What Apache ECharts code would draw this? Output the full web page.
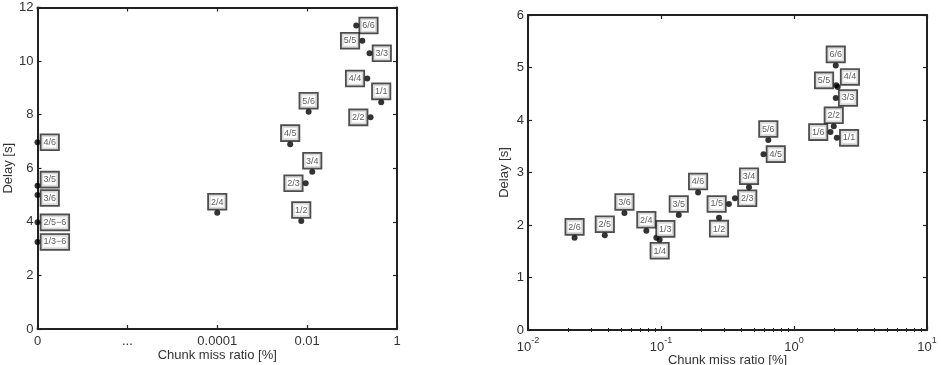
<!DOCTYPE html>
<html><head><meta charset="utf-8">
<script src="https://cdn.jsdelivr.net/npm/echarts@6/dist/echarts.min.js"></script>
<style>html,body{margin:0;padding:0;background:#fff}#c{width:941px;height:365px}</style>
</head><body><div id="c"></div>
<script>
// ---- Left panel data (chunk miss ratio in %, delay in s) ----
const leftLabels = ['4/6','3/5','3/6','2/5\u22126','1/3\u22126','2/4','1/2','2/3','3/4','4/5','5/6','6/6','5/5','3/3','4/4','1/1','2/2'];
const leftMiss   = [0, 0, 0, 0, 0, 0.0001, 0.0074, 0.0093, 0.013, 0.0042, 0.0108, 0.124, 0.169, 0.245, 0.218, 0.445, 0.258];
const leftDelay  = [6.97, 5.35, 5.0, 3.98, 3.25, 4.34, 4.03, 5.44, 5.87, 6.9, 8.11, 11.33, 10.76, 10.29, 9.35, 8.46, 7.9];
const leftTickLabels = ['0', '...', '0.0001', '0.01', '1'];
const leftYTicks = [0, 12, 2];

// ---- Right panel data ----
const rightLabels = ['2/6','2/5','3/6','2/4','1/3','1/4','3/5','4/6','1/2','1/5','2/3','3/4','4/5','5/6','6/6','5/5','4/4','3/3','2/2','1/6','1/1'];
const rightMiss   = [0.0224, 0.0378, 0.0531, 0.0776, 0.0923, 0.0977, 0.136, 0.19, 0.273, 0.324, 0.36, 0.459, 0.59, 0.641, 2.06, 2.08, 2.13, 2.06, 1.99, 1.88, 2.10];
const rightDelay  = [1.755, 1.806, 2.23, 1.89, 1.755, 1.72, 2.19, 2.62, 2.14, 2.40, 2.51, 2.72, 3.35, 3.62, 5.04, 4.66, 4.63, 4.42, 3.88, 3.77, 3.66];
const rightYTicks = [0, 6, 1];
const rightMinorTicks = [0.02,0.03,0.04,0.05,0.06,0.07,0.08,0.09,0.2,0.3,0.4,0.5,0.6,0.7,0.8,0.9,2,3,4,5,6,7,8,9];

// label placement (style, kept apart from data)
const leftLabelPos  = ['right','right','right','right','right','top','top','left','top','top','top','right','left','right','left','top','left'];
const leftLabelOffset = {1: [0, -6], 2: [0, 3]};
const rightLabelPos = ['top','top','top','top','top','bottom','top','top','bottom','left','right','top','right','top','top','left','right','right','top','left','right'];
const rightLabelOffset = {4: [9, 2], 15: [0, -5], 16: [0, -10]};

// broken axis: 0 at position 0, then log decades 1e-4 .. 1 at positions 2..4
function leftPos(p) { return p === 0 ? 0 : 2 + (Math.log10(p) + 4) / 2; }

const FONT = '"Liberation Sans", Arial, sans-serif';
const TXT = '#333';
const AX = '#222';

const boxLabel = {
  show: true, fontSize: 9, fontFamily: FONT, color: '#333',
  backgroundColor: '#fff', borderColor: '#222', borderWidth: 1.8,
  padding: [3, 2, 2, 2], distance: 1
};

function mkData(names, xs, ys, pos, offs, xf) {
  return names.map((n, i) => {
    const lab = Object.assign({}, boxLabel, {position: pos[i], formatter: n});
    if (offs && offs[i]) lab.offset = offs[i];
    return {name: n, value: [xf ? xf(xs[i]) : xs[i], ys[i]], label: lab};
  });
}

const tickCommon = {show: true, inside: true, length: 4, lineStyle: {color: AX, width: 1.2}};
const minorTick = {show: true, inside: true, length: 2, lineStyle: {color: AX, width: 1}, customValues: rightMinorTicks};
const lineCommon = {show: true, onZero: false, lineStyle: {color: AX, width: 2}};
const labelCommon = {color: TXT, fontSize: 13, fontFamily: FONT};
const nameStyle = {color: TXT, fontSize: 13, fontFamily: FONT};

const option = {
  animation: false,
  backgroundColor: '#fff',
  grid: [
    {left: 37.5, right: 544, top: 7.5, bottom: 36, containLabel: false, outerBoundsMode: 'none'},
    {left: 528, right: 14, top: 15, bottom: 35, containLabel: false, outerBoundsMode: 'none'}
  ],
  xAxis: [
    {gridIndex: 0, type: 'value', min: 0, max: 4, interval: 1, position: 'bottom',
     axisLine: lineCommon, axisTick: tickCommon, splitLine: {show: false},
     axisLabel: Object.assign({}, labelCommon, {margin: 6, formatter: v => leftTickLabels[Math.round(v)]}),
     name: 'Chunk miss ratio [%]', nameLocation: 'middle', nameGap: 20, nameMoveOverlap: false, nameTextStyle: nameStyle},
    {gridIndex: 0, type: 'value', min: 0, max: 4, interval: 1, position: 'top',
     axisLine: lineCommon, axisTick: tickCommon, splitLine: {show: false}, axisLabel: {show: false}},
    {gridIndex: 1, type: 'log', logBase: 10, min: 0.01, max: 10, position: 'bottom',
     axisLine: lineCommon, axisTick: tickCommon, splitLine: {show: false},
     axisLabel: Object.assign({}, labelCommon, {margin: 4,
       formatter: v => '{b|10}{s|' + Math.round(Math.log10(v)) + '}',
       rich: {b: {fontSize: 13, fontFamily: FONT, color: TXT, padding: [7, 0, 0, 0]},
              s: {fontSize: 9, fontFamily: FONT, color: TXT, padding: [0, 0, 6, 0]}}}),
     name: 'Chunk miss ratio [%]', nameLocation: 'middle', nameGap: 24, nameMoveOverlap: false, nameTextStyle: nameStyle},
    {gridIndex: 1, type: 'log', logBase: 10, min: 0.01, max: 10, position: 'bottom',
     axisLine: {show: false}, splitLine: {show: false}, axisLabel: {show: false}, axisTick: minorTick},
    {gridIndex: 1, type: 'log', logBase: 10, min: 0.01, max: 10, position: 'top',
     axisLine: lineCommon, axisTick: tickCommon, splitLine: {show: false}, axisLabel: {show: false}},
    {gridIndex: 1, type: 'log', logBase: 10, min: 0.01, max: 10, position: 'top',
     axisLine: {show: false}, splitLine: {show: false}, axisLabel: {show: false}, axisTick: minorTick}
  ],
  yAxis: [
    {gridIndex: 0, type: 'value', min: leftYTicks[0], max: leftYTicks[1], interval: leftYTicks[2], position: 'left',
     axisLine: lineCommon, axisTick: tickCommon, splitLine: {show: false},
     axisLabel: Object.assign({}, labelCommon, {margin: 4}),
     name: 'Delay [s]', nameLocation: 'middle', nameGap: 23, nameMoveOverlap: false, nameTextStyle: nameStyle},
    {gridIndex: 0, type: 'value', min: leftYTicks[0], max: leftYTicks[1], interval: leftYTicks[2], position: 'right',
     axisLine: lineCommon, axisTick: tickCommon, splitLine: {show: false}, axisLabel: {show: false}},
    {gridIndex: 1, type: 'value', min: rightYTicks[0], max: rightYTicks[1], interval: rightYTicks[2], position: 'left',
     axisLine: lineCommon, axisTick: tickCommon, splitLine: {show: false},
     axisLabel: Object.assign({}, labelCommon, {margin: 4}),
     name: 'Delay [s]', nameLocation: 'middle', nameGap: 17, nameMoveOverlap: false, nameTextStyle: nameStyle},
    {gridIndex: 1, type: 'value', min: rightYTicks[0], max: rightYTicks[1], interval: rightYTicks[2], position: 'right',
     axisLine: lineCommon, axisTick: tickCommon, splitLine: {show: false}, axisLabel: {show: false}}
  ],
  series: [
    {type: 'scatter', xAxisIndex: 0, yAxisIndex: 0, symbolSize: 6, clip: false,
     itemStyle: {color: '#000'},
     data: mkData(leftLabels, leftMiss, leftDelay, leftLabelPos, leftLabelOffset, leftPos)},
    {type: 'scatter', xAxisIndex: 2, yAxisIndex: 2, symbolSize: 6, clip: false,
     itemStyle: {color: '#000'},
     data: mkData(rightLabels, rightMiss, rightDelay, rightLabelPos, rightLabelOffset)}
  ]
};
const chart = echarts.init(document.getElementById('c'), null, {renderer: 'canvas'});
chart.setOption(option);
</script>
</body></html>
